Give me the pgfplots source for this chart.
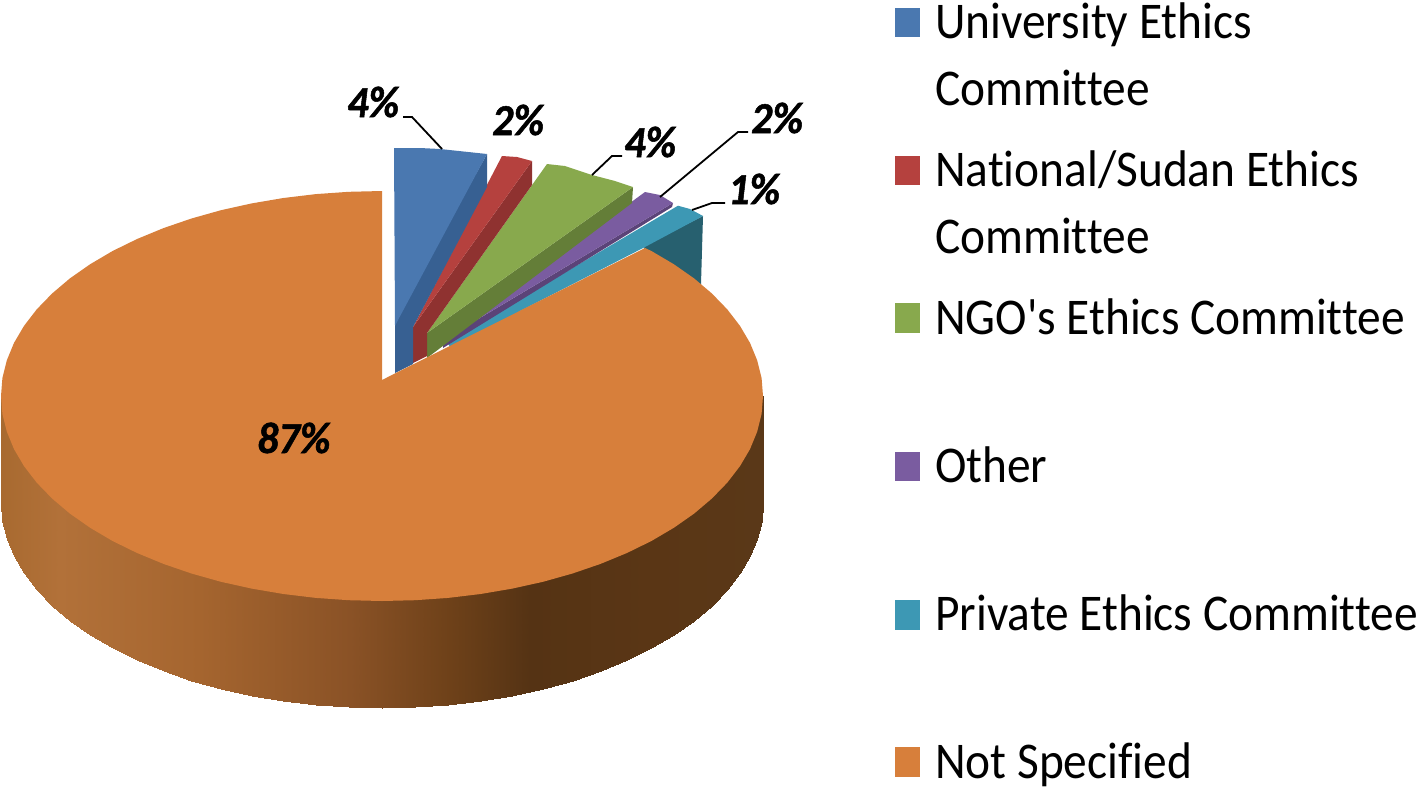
\documentclass[border=0pt]{standalone}
\usepackage{pgfplots}
\pgfplotsset{compat=1.18}
\usepackage{fontspec}
\setmainfont{Carlito}[Ligatures={NoCommon}]
\newfontfamily\pctfont{Carlito}[BoldItalicFeatures={FakeBold=1.2}]
\definecolor{cblue}{HTML}{4A78B0}
\definecolor{cblued}{HTML}{376092}
\definecolor{cred}{HTML}{B5413E}
\definecolor{credd}{HTML}{8F3230}
\definecolor{cgreen}{HTML}{88A94D}
\definecolor{cgreend}{HTML}{647E38}
\definecolor{cpurple}{HTML}{7A5CA0}
\definecolor{cpurpled}{HTML}{5B4378}
\definecolor{cteal}{HTML}{3D98B4}
\definecolor{cteald}{HTML}{27606F}
\definecolor{corange}{HTML}{D77F3B}
\newcommand{\leg}[1]{\scalebox{1.03}[1.12]{\fontsize{46}{46}\selectfont #1}}
\newcommand{\pct}[1]{\scalebox{1.0}[1.05]{\fontsize{42}{42}\selectfont\pctfont\bfseries\itshape #1}}
\begin{document}
\begin{tikzpicture}
\begin{axis}[
  scale only axis, width=1418pt, height=790pt,
  xmin=0, xmax=1418, ymin=0, ymax=790, y dir=reverse,
  hide axis, clip=false,
  colormap={side}{rgb255(1pt)=(168,106,48); rgb255(60pt)=(178,113,57); rgb255(200pt)=(165,101,47); rgb255(350pt)=(138,82,38); rgb255(450pt)=(110,65,25); rgb255(530pt)=(85,51,20); rgb255(650pt)=(90,54,21); rgb255(763pt)=(90,56,24)},
  point meta min=1, point meta max=763]
\path (axis cs:0,0) (axis cs:1418,790);
% side of the large slice: strips whose colour follows x
\addplot[patch, patch type=rectangle, shader=interp, point meta=x] coordinates {
(1,396)(2.4,396)(2.4,520.9)(1,503)
(2.4,396)(6.8,396)(6.8,538.6)(2.4,520.9)
(6.8,396)(14,396)(14,556.1)(6.8,538.6)
(14,396)(24,396)(24,573.1)(14,556.1)
(24,396)(36.7,396)(36.7,589.6)(24,573.1)
(36.7,396)(52.1,396)(52.1,605.5)(36.7,589.6)
(52.1,396)(69.9,396)(69.9,620.6)(52.1,605.5)
(69.9,396)(90.2,396)(90.2,634.8)(69.9,620.6)
(90.2,396)(112.6,396)(112.6,648)(90.2,634.8)
(112.6,396)(137.1,396)(137.1,660)(112.6,648)
(137.1,396)(163.5,396)(163.5,670.9)(137.1,660)
(163.5,396)(191.5,396)(191.5,680.5)(163.5,670.9)
(191.5,396)(221,396)(221,688.8)(191.5,680.5)
(221,396)(251.7,396)(251.7,695.6)(221,688.8)
(251.7,396)(283.4,396)(283.4,701)(251.7,695.6)
(283.4,396)(315.9,396)(315.9,704.9)(283.4,701)
(315.9,396)(348.8,396)(348.8,707.2)(315.9,704.9)
(348.8,396)(382,396)(382,708)(348.8,707.2)
(382,396)(415.2,396)(415.2,707.2)(382,708)
(415.2,396)(448.1,396)(448.1,704.9)(415.2,707.2)
(448.1,396)(480.6,396)(480.6,701)(448.1,704.9)
(480.6,396)(512.3,396)(512.3,695.6)(480.6,701)
(512.3,396)(543,396)(543,688.8)(512.3,695.6)
(543,396)(572.5,396)(572.5,680.5)(543,688.8)
(572.5,396)(600.5,396)(600.5,670.9)(572.5,680.5)
(600.5,396)(626.9,396)(626.9,660)(600.5,670.9)
(626.9,396)(651.4,396)(651.4,648)(626.9,660)
(651.4,396)(673.8,396)(673.8,634.8)(651.4,648)
(673.8,396)(694.1,396)(694.1,620.6)(673.8,634.8)
(694.1,396)(711.9,396)(711.9,605.5)(694.1,620.6)
(711.9,396)(727.3,396)(727.3,589.6)(711.9,605.5)
(727.3,396)(740,396)(740,573.1)(727.3,589.6)
(740,396)(750,396)(750,556.1)(740,573.1)
(750,396)(757.2,396)(757.2,538.6)(750,556.1)
(757.2,396)(761.6,396)(761.6,520.9)(757.2,538.6)
(761.6,396)(763,396)(763,503)(761.6,520.9)
};
% small slices: sides then tops
\addplot[draw=none, fill=cteald] coordinates {(703,216)(701,284)(640,262)(645,245)} --cycle;
\addplot[draw=none, fill=cteal] coordinates {(678,205.7)(690,209)(703,216)(645,247)(450,347)(447,342)} --cycle;
\addplot[draw=none, fill=cpurpled] coordinates {(673,203)(672,207)(443,348)(443,340)} --cycle;
\addplot[draw=none, fill=cpurple] coordinates {(645,192)(660,195)(673,203)(443,340)} --cycle;
\addplot[draw=none, fill=cgreend] coordinates {(633,187)(632,203)(427,358)(427,333)} --cycle;
\addplot[draw=none, fill=cgreen] coordinates {(547,164)(565,166)(592,175)(615,181)(633,187)(427,333)} --cycle;
\addplot[draw=none, fill=credd] coordinates {(532,161)(532,185)(427,333)(427,356)(413,363)(413,327)} --cycle;
\addplot[draw=none, fill=cred] coordinates {(502,156)(517,157)(532,161)(413,327)} --cycle;
\addplot[draw=none, fill=cblued] coordinates {(487,154)(487,187)(413,327)(413,364)(395,373)(395,320)} --cycle;
\addplot[draw=none, fill=cblue] coordinates {(394,148)(420,148)(440,149)(487,154)(398,320)(395,326)} --cycle;
% top of the large slice
\addplot[draw=none, fill=corange] coordinates {
(382,380)(645,248)(651.4,251)(673.8,264.2)(694.1,278.4)(711.9,293.5)(727.3,309.4)(740,325.9)(750,342.9)(757.2,360.4)(761.6,378.1)(763,396)(761.6,413.9)(757.2,431.6)(750,449.1)(740,466.1)(727.3,482.6)(711.9,498.5)(694.1,513.6)(673.8,527.8)(651.4,541)(626.9,553)(600.5,563.9)(572.5,573.5)(543,581.8)(512.3,588.6)(480.6,594)(448.1,597.9)(415.2,600.2)(382,601)(348.8,600.2)(315.9,597.9)(283.4,594)(251.7,588.6)(221,581.8)(191.5,573.5)(163.5,563.9)(137.1,553)(112.6,541)(90.2,527.8)(69.9,513.6)(52.1,498.5)(36.7,482.6)(24,466.1)(14,449.1)(6.8,431.6)(2.4,413.9)(1,396)(2.4,378.1)(6.8,360.4)(14,342.9)(24,325.9)(36.7,309.4)(52.1,293.5)(69.9,278.4)(90.2,264.2)(112.6,251)(137.1,239)(163.5,228.1)(191.5,218.5)(221,210.2)(251.7,203.4)(283.4,198)(315.9,194.1)(348.8,191.8)(382,191)} --cycle;
% leader lines
\addplot[black, line width=1.8pt] coordinates {(403,117)(412,117)(442,149)};
\addplot[black, line width=1.8pt] coordinates {(748,132)(738,132)(660,197)};
\addplot[black, line width=1.8pt] coordinates {(622,156)(612,156)(592,175)};
\addplot[black, line width=1.8pt] coordinates {(725,203)(712,203)(692,210)};
% legend swatches
\addplot[draw=none, fill=cblue] coordinates {(895,8)(920,8)(920,37)(895,37)} --cycle;
\addplot[draw=none, fill=cred] coordinates {(895,156)(920,156)(920,185)(895,185)} --cycle;
\addplot[draw=none, fill=cgreen] coordinates {(895,303)(920,303)(920,333)(895,333)} --cycle;
\addplot[draw=none, fill=cpurple] coordinates {(895,452)(920,452)(920,481)(895,481)} --cycle;
\addplot[draw=none, fill=cteal] coordinates {(895,600)(920,600)(920,630)(895,630)} --cycle;
\addplot[draw=none, fill=corange] coordinates {(895,747)(920,747)(920,777)(895,777)} --cycle;
% legend text
\node[anchor=base west, inner sep=0pt] at (axis cs:935,38) {\leg{University Ethics}};
\node[anchor=base west, inner sep=0pt] at (axis cs:935,105) {\leg{Committee}};
\node[anchor=base west, inner sep=0pt] at (axis cs:935,186) {\leg{National/Sudan Ethics}};
\node[anchor=base west, inner sep=0pt] at (axis cs:935,253) {\leg{Committee}};
\node[anchor=base west, inner sep=0pt] at (axis cs:935,334) {\leg{NGO\textquotesingle s Ethics Committee}};
\node[anchor=base west, inner sep=0pt] at (axis cs:935,482) {\leg{Other}};
\node[anchor=base west, inner sep=0pt] at (axis cs:935,630) {\leg{Private Ethics Committee}};
\node[anchor=base west, inner sep=0pt] at (axis cs:935,778) {\leg{Not Specified}};
% data labels
\node[anchor=base west, inner sep=0pt] at (axis cs:347,117) {\pct{4\%}};
\node[anchor=base west, inner sep=0pt] at (axis cs:492,135) {\pct{2\%}};
\node[anchor=base west, inner sep=0pt] at (axis cs:624,157) {\pct{4\%}};
\node[anchor=base west, inner sep=0pt] at (axis cs:751,133) {\pct{2\%}};
\node[anchor=base west, inner sep=0pt] at (axis cs:728,204) {\pct{1\%}};
\node[anchor=base west, inner sep=0pt] at (axis cs:257,453) {\pct{87\%}};
\end{axis}
\end{tikzpicture}
\end{document}
